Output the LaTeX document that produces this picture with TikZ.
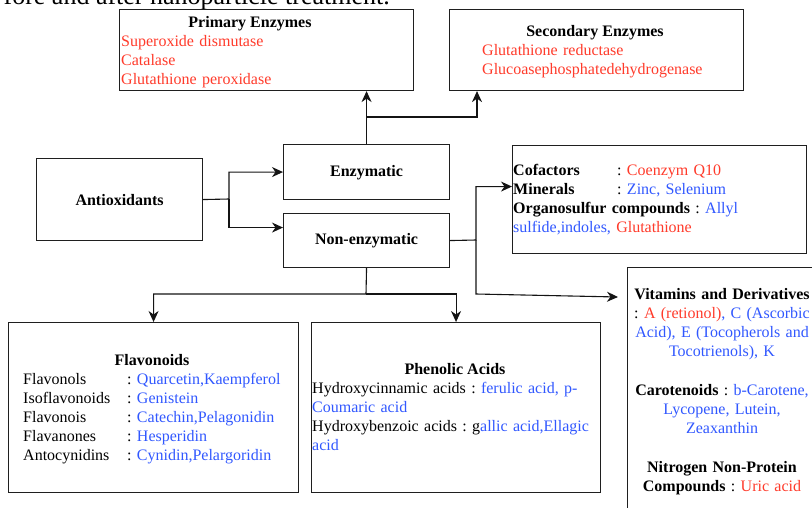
\documentclass[tikz,border=0pt]{standalone}
\usepackage{fontspec}
\setmainfont{Liberation Serif}
\usetikzlibrary{arrows.meta}
\definecolor{tred}{HTML}{FF3B2B}
\definecolor{tblue}{HTML}{3158FF}
\frenchspacing
\begin{document}
\frenchspacing
\begin{tikzpicture}[x=1pt,y=-1pt,
  box/.style={draw=black!88, line width=1.1pt, rectangle, inner sep=0, anchor=north west},
  ln/.style={line width=1.1pt, draw=black!92},
  arr/.style={ln, -{Stealth[length=11pt,width=10pt,inset=3.5pt]}},
  txt/.style={inner sep=0, font=\fontsize{16}{19}\selectfont},
  ttl/.style={txt, font=\fontsize{16}{19}\selectfont\bfseries, anchor=base},
  body/.style={txt, anchor=base west, align=left},
  cbody/.style={txt, anchor=base, align=center, text width=200pt}]
\clip (0,0) rectangle (812,507);
\fill[white] (0,0) rectangle (812,507);
% clipped caption line of the page
\node[inner sep=0, anchor=base east, font=\fontsize{26}{30}\selectfont] (cap) at (390,4) {fore and after nanoparticle treatment.};
% boxes
\node[box, minimum width=294pt, minimum height=81pt] (prim) at (119,9) {};
\node[box, minimum width=294pt, minimum height=81pt] (sec) at (449,9) {};
\node[box, minimum width=166pt, minimum height=82pt] (anti) at (36,158) {};
\node[box, minimum width=166pt, minimum height=55pt] (enz) at (283,144) {};
\node[box, minimum width=166pt, minimum height=54pt] (nonenz) at (283,213) {};
\node[box, minimum width=294pt, minimum height=108pt] (cof) at (512,145) {};
\node[box, minimum width=290pt, minimum height=170pt] (flav) at (8,322) {};
\node[box, minimum width=289pt, minimum height=170pt] (phen) at (311,322) {};
\node[box, minimum width=220pt, minimum height=260pt] (vit) at (627,267) {};
% texts
\node[ttl] (primt) at (250,27) {Primary Enzymes};
\node[body, text width=200pt] (priml) at (121,46) {\color{tred}Superoxide dismutase\\Catalase\\Glutathione peroxidase};
\node[ttl] (sect) at (595,36) {Secondary Enzymes};
\node[body, text width=250pt] (secl) at (482,55) {\color{tred}Glutathione reductase\\Glucoasephosphatedehydrogenase};
\node[ttl, anchor=center] (antit) at (anti.center) {Antioxidants};
\node[ttl, anchor=center] (enzt) at ([yshift=-1pt]enz.center) {Enzymatic};
\node[ttl, anchor=center] (nonenzt) at (nonenz.center) {Non-enzymatic};
\node[body, text width=290pt] (cofl) at (513,175) {\makebox[104pt][l]{\textbf{Cofactors}}: \textcolor{tred}{Coenzym Q10}\\
\makebox[104pt][l]{\textbf{Minerals}}: \textcolor{tblue}{Zinc, Selenium}\\
\textbf{Organosulfur compounds} : \textcolor{tblue}{Allyl}\\
\textcolor{tblue}{sulfide,indoles,} \textcolor{tred}{Glutathione}};
\node[ttl] (flavt) at (152,365) {Flavonoids};
\node[body, text width=270pt] (flavl) at (23,384) {\makebox[104pt][l]{Flavonols}: \textcolor{tblue}{Quarcetin,Kaempferol}\\
\makebox[104pt][l]{Isoflavonoids}: \textcolor{tblue}{Genistein}\\
\makebox[104pt][l]{Flavonois}: \textcolor{tblue}{Catechin,Pelagonidin}\\
\makebox[104pt][l]{Flavanones}: \textcolor{tblue}{Hesperidin}\\
\makebox[104pt][l]{Antocynidins}: \textcolor{tblue}{Cynidin,Pelargoridin}};
\node[ttl] (phent) at (455,374) {Phenolic Acids};
\node[body, text width=285pt] (phenl) at (312,393) {Hydroxycinnamic acids : \textcolor{tblue}{ferulic acid, p-}\\
\textcolor{tblue}{Coumaric acid}\\
Hydroxybenzoic acids : g\textcolor{tblue}{allic acid,Ellagic}\\
\textcolor{tblue}{acid}};
\node[cbody] (vit1) at (722,299) {\textbf{Vitamins and Derivatives}\\
: \textcolor{tred}{A (retionol)}\textcolor{tblue}{, C (Ascorbic}\\
\textcolor{tblue}{Acid), E (Tocopherols and}\\
\textcolor{tblue}{Tocotrienols), K}};
\node[cbody] (vit2) at (722,395) {\textbf{Carotenoids} : \textcolor{tblue}{b-Carotene,}\\
\textcolor{tblue}{Lycopene, Lutein,}\\
\textcolor{tblue}{Zeaxanthin}};
\node[cbody] (vit3) at (722,472) {\textbf{Nitrogen Non-Protein}\\
\textbf{Compounds} : \textcolor{tred}{Uric acid}};
% connectors
\coordinate (s1) at (229,199);
\draw[arr] (anti.east) -- (s1) |- (enz.west);
\draw[arr] (s1) |- ([yshift=13pt]nonenz.west);
\draw[arr] (enz.north) -- (enz.north |- prim.south);
\coordinate (s2) at (366,117);
\draw[arr] (s2) -| ([xshift=28pt]sec.south west);
\coordinate (s3) at (476,240);
\draw[arr] (nonenz.east) -- (s3) |- ([yshift=13pt]cof.west);
\coordinate (s4) at (476,294);
\coordinate (vtip) at (618,297);
\draw[arr] (s3) -- (s4) -- (vtip);
\coordinate (s5) at (366,294);
\draw[arr] (nonenz.south) -- (s5) -| (flav.north);
\draw[arr] (s5) -| (phen.north);
\end{tikzpicture}
\end{document}
